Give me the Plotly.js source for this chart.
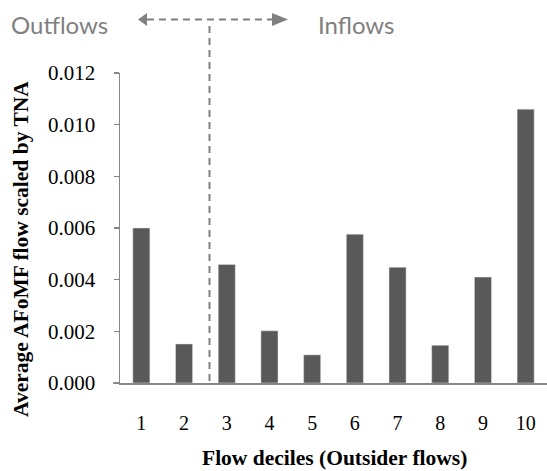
<!DOCTYPE html>
<html>
<head>
<meta charset="utf-8">
<script src="https://cdn.plot.ly/plotly-3.0.1.min.js"></script>
<style>html,body{margin:0;padding:0;background:#fff;}#chart{width:547px;height:471px;}</style>
</head>
<body>
<div id="chart"></div>
<script>
// Data
var deciles = ['1','2','3','4','5','6','7','8','9','10'];
var avgFlow = [0.0060, 0.00151, 0.00459, 0.00202, 0.00109, 0.00576, 0.00448, 0.00146, 0.00410, 0.0106];
var yTickVals = [0, 0.002, 0.004, 0.006, 0.008, 0.010, 0.012];
var yTickText = ['0.000','0.002','0.004','0.006','0.008','0.010','0.012'];
var leftLabel = 'Outflows';
var rightLabel = 'Inflows';
var xTitle = 'Flow deciles (Outsider flows)';
var yTitle = 'Average AFoMF flow scaled by TNA';

// Layout geometry (pixels)
var W = 547, H = 471;
var M = {l: 120, r: 0, t: 73, b: 88};
var PW = W - M.l - M.r, PH = H - M.t - M.b;
function px(x) { return (x - M.l) / PW; }
function py(y) { return (M.t + PH - y) / PH; }

var serif = 'Times New Roman';
var gray = '#808080';
var axisGray = '#868686';
var arrowY = 19.5;
var dividerX = 209.5;

var shapes = [
  {type: 'line', xref: 'paper', yref: 'paper', x0: px(dividerX), x1: px(dividerX), y0: py(381), y1: py(21.5),
   line: {color: gray, width: 2, dash: '7px,5px'}},
  {type: 'line', xref: 'paper', yref: 'paper', x0: px(147), x1: px(272), y0: py(arrowY), y1: py(arrowY),
   line: {color: gray, width: 2, dash: '7px,5px'}},
  {type: 'path', xref: 'paper', yref: 'paper',
   path: 'M ' + px(138) + ' ' + py(arrowY) + ' L ' + px(147) + ' ' + py(arrowY - 6.5) + ' L ' + px(147) + ' ' + py(arrowY + 6.5) + ' Z',
   fillcolor: gray, line: {color: gray, width: 0}},
  {type: 'path', xref: 'paper', yref: 'paper',
   path: 'M ' + px(288) + ' ' + py(arrowY) + ' L ' + px(272) + ' ' + py(arrowY - 6.5) + ' L ' + px(272) + ' ' + py(arrowY + 6.5) + ' Z',
   fillcolor: gray, line: {color: gray, width: 0}},
  {type: 'line', xref: 'paper', yref: 'paper', x0: px(113), x1: px(120), y0: 0, y1: 0,
   line: {color: axisGray, width: 1.5}}
];

var annotations = [
  {text: leftLabel, xref: 'paper', yref: 'paper', x: px(59), y: py(24), showarrow: false,
   xanchor: 'center', yanchor: 'middle', font: {family: 'Lato', size: 24, color: gray}},
  {text: rightLabel, xref: 'paper', yref: 'paper', x: px(356), y: py(24), showarrow: false,
   xanchor: 'center', yanchor: 'middle', font: {family: 'Lato', size: 24, color: gray}},
  {text: '<b>' + xTitle + '</b>', xref: 'paper', yref: 'paper', x: px(334), y: py(458), showarrow: false,
   xanchor: 'center', yanchor: 'middle', font: {family: serif, size: 21.5, color: '#000'}},
  {text: '<b>' + yTitle + '</b>', xref: 'paper', yref: 'paper', x: px(21), y: py(249), showarrow: false,
   textangle: -90, xanchor: 'center', yanchor: 'middle', font: {family: serif, size: 21.5, color: '#000'}}
];

var trace = {
  type: 'bar', x: deciles, y: avgFlow,
  marker: {color: '#595959', line: {color: '#e6e6e6', width: 0.5}},
  hoverinfo: 'skip'
};

var layout = {
  width: W, height: H,
  margin: M,
  paper_bgcolor: '#fff', plot_bgcolor: '#fff',
  showlegend: false,
  bargap: 0.6,
  font: {family: serif, size: 20, color: '#000'},
  xaxis: {
    type: 'category', showline: true, linecolor: axisGray, linewidth: 1.5,
    ticks: '', showgrid: false, zeroline: false, ticklabelstandoff: 21,
    tickfont: {family: serif, size: 20, color: '#000'}
  },
  yaxis: {
    range: [0, 0.012], tickvals: yTickVals, ticktext: yTickText,
    showline: true, linecolor: axisGray, linewidth: 1.5,
    ticks: 'outside', ticklen: 5, tickcolor: axisGray, tickwidth: 1.5,
    showgrid: false, zeroline: false, ticklabelstandoff: 14,
    tickfont: {family: serif, size: 21, color: '#000'}
  },
  shapes: shapes,
  annotations: annotations
};

Plotly.newPlot('chart', [trace], layout, {staticPlot: true, displayModeBar: false});
</script>
</body>
</html>
